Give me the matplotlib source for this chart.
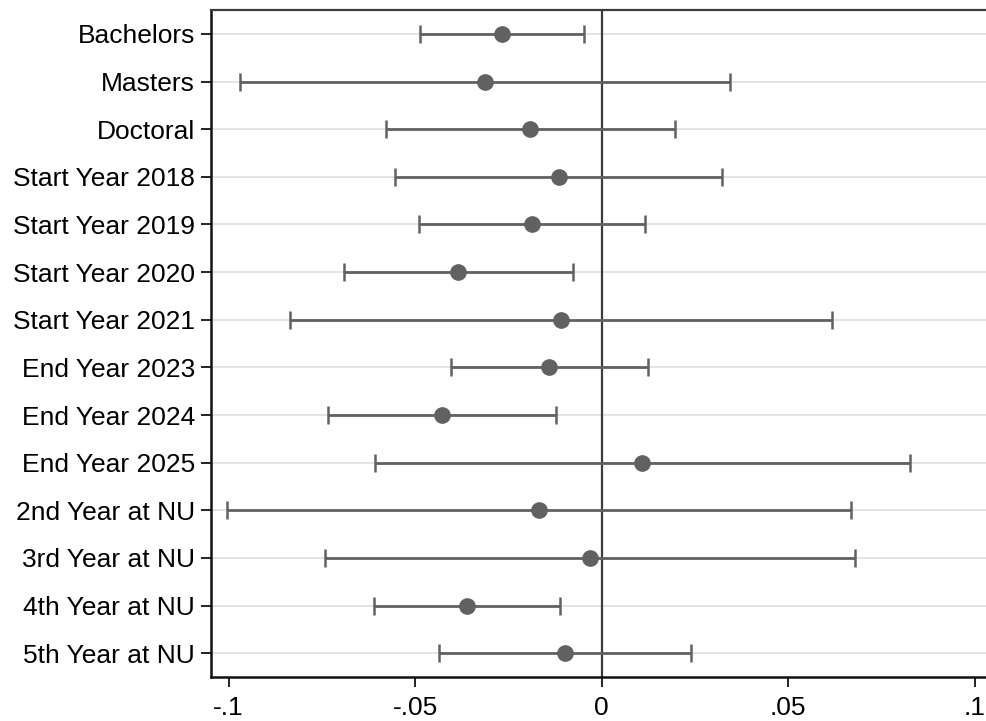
import matplotlib
matplotlib.use("Agg")
import matplotlib.pyplot as plt

labels = ["Bachelors", "Masters", "Doctoral",
          "Start Year 2018", "Start Year 2019", "Start Year 2020", "Start Year 2021",
          "End Year 2023", "End Year 2024", "End Year 2025",
          "2nd Year at NU", "3rd Year at NU", "4th Year at NU", "5th Year at NU"]
coef = [-0.0267, -0.0313, -0.0191, -0.0115, -0.0188, -0.0385, -0.0109,
        -0.0142, -0.0428, 0.0109, -0.0168, -0.0032, -0.0361, -0.0097]
ci_low = [-0.0487, -0.0969, -0.0578, -0.0553, -0.0490, -0.0692, -0.0835,
          -0.0405, -0.0734, -0.0607, -0.1005, -0.0742, -0.0611, -0.0435]
ci_high = [-0.0047, 0.0345, 0.0196, 0.0322, 0.0115, -0.0077, 0.0617,
           0.0123, -0.0122, 0.0827, 0.0669, 0.0680, -0.0112, 0.0239]
xticks = [-0.1, -0.05, 0, 0.05, 0.1]
xtick_labels = ["-.1", "-.05", "0", ".05", ".1"]

plt.rcParams["font.family"] = ["Liberation Sans", "DejaVu Sans"]

fig = plt.figure(figsize=(9.87, 7.21), dpi=100)
ax = fig.add_axes([0.2135, 0.061, 0.7865, 0.925])

ypos = list(range(1, len(labels) + 1))
gray = "#616161"

for y in ypos:
    ax.axhline(y, color="#e4e4e4", lw=1.4, zorder=0)
ax.axvline(0, color="#3c3c3c", lw=1.6, zorder=1)

err_lo = [c - lo for c, lo in zip(coef, ci_low)]
err_hi = [hi - c for c, hi in zip(coef, ci_high)]
ax.errorbar(coef, ypos, xerr=[err_lo, err_hi], fmt="o", color=gray,
            ecolor=gray, elinewidth=2.0, capsize=6.5, capthick=1.8,
            markersize=11, zorder=3)

ax.set_xlim(-0.1048, 0.1033)
ax.set_ylim(len(labels) + 0.5, 0.5)
ax.set_yticks(ypos)
ax.set_yticklabels(labels)
ax.set_xticks(xticks)
ax.set_xticklabels(xtick_labels)
ax.tick_params(axis="y", length=7, width=1.4, pad=4.5, labelsize=19, color="#222222")
ax.tick_params(axis="x", length=7, width=1.4, pad=7, labelsize=19, color="#222222")

for side in ["left", "bottom"]:
    ax.spines[side].set_color("#111111")
    ax.spines[side].set_linewidth(1.8)
ax.spines["top"].set_color("#3c3c3c")
ax.spines["top"].set_linewidth(1.6)
ax.spines["right"].set_visible(False)

fig.savefig("out.png", dpi=100)
